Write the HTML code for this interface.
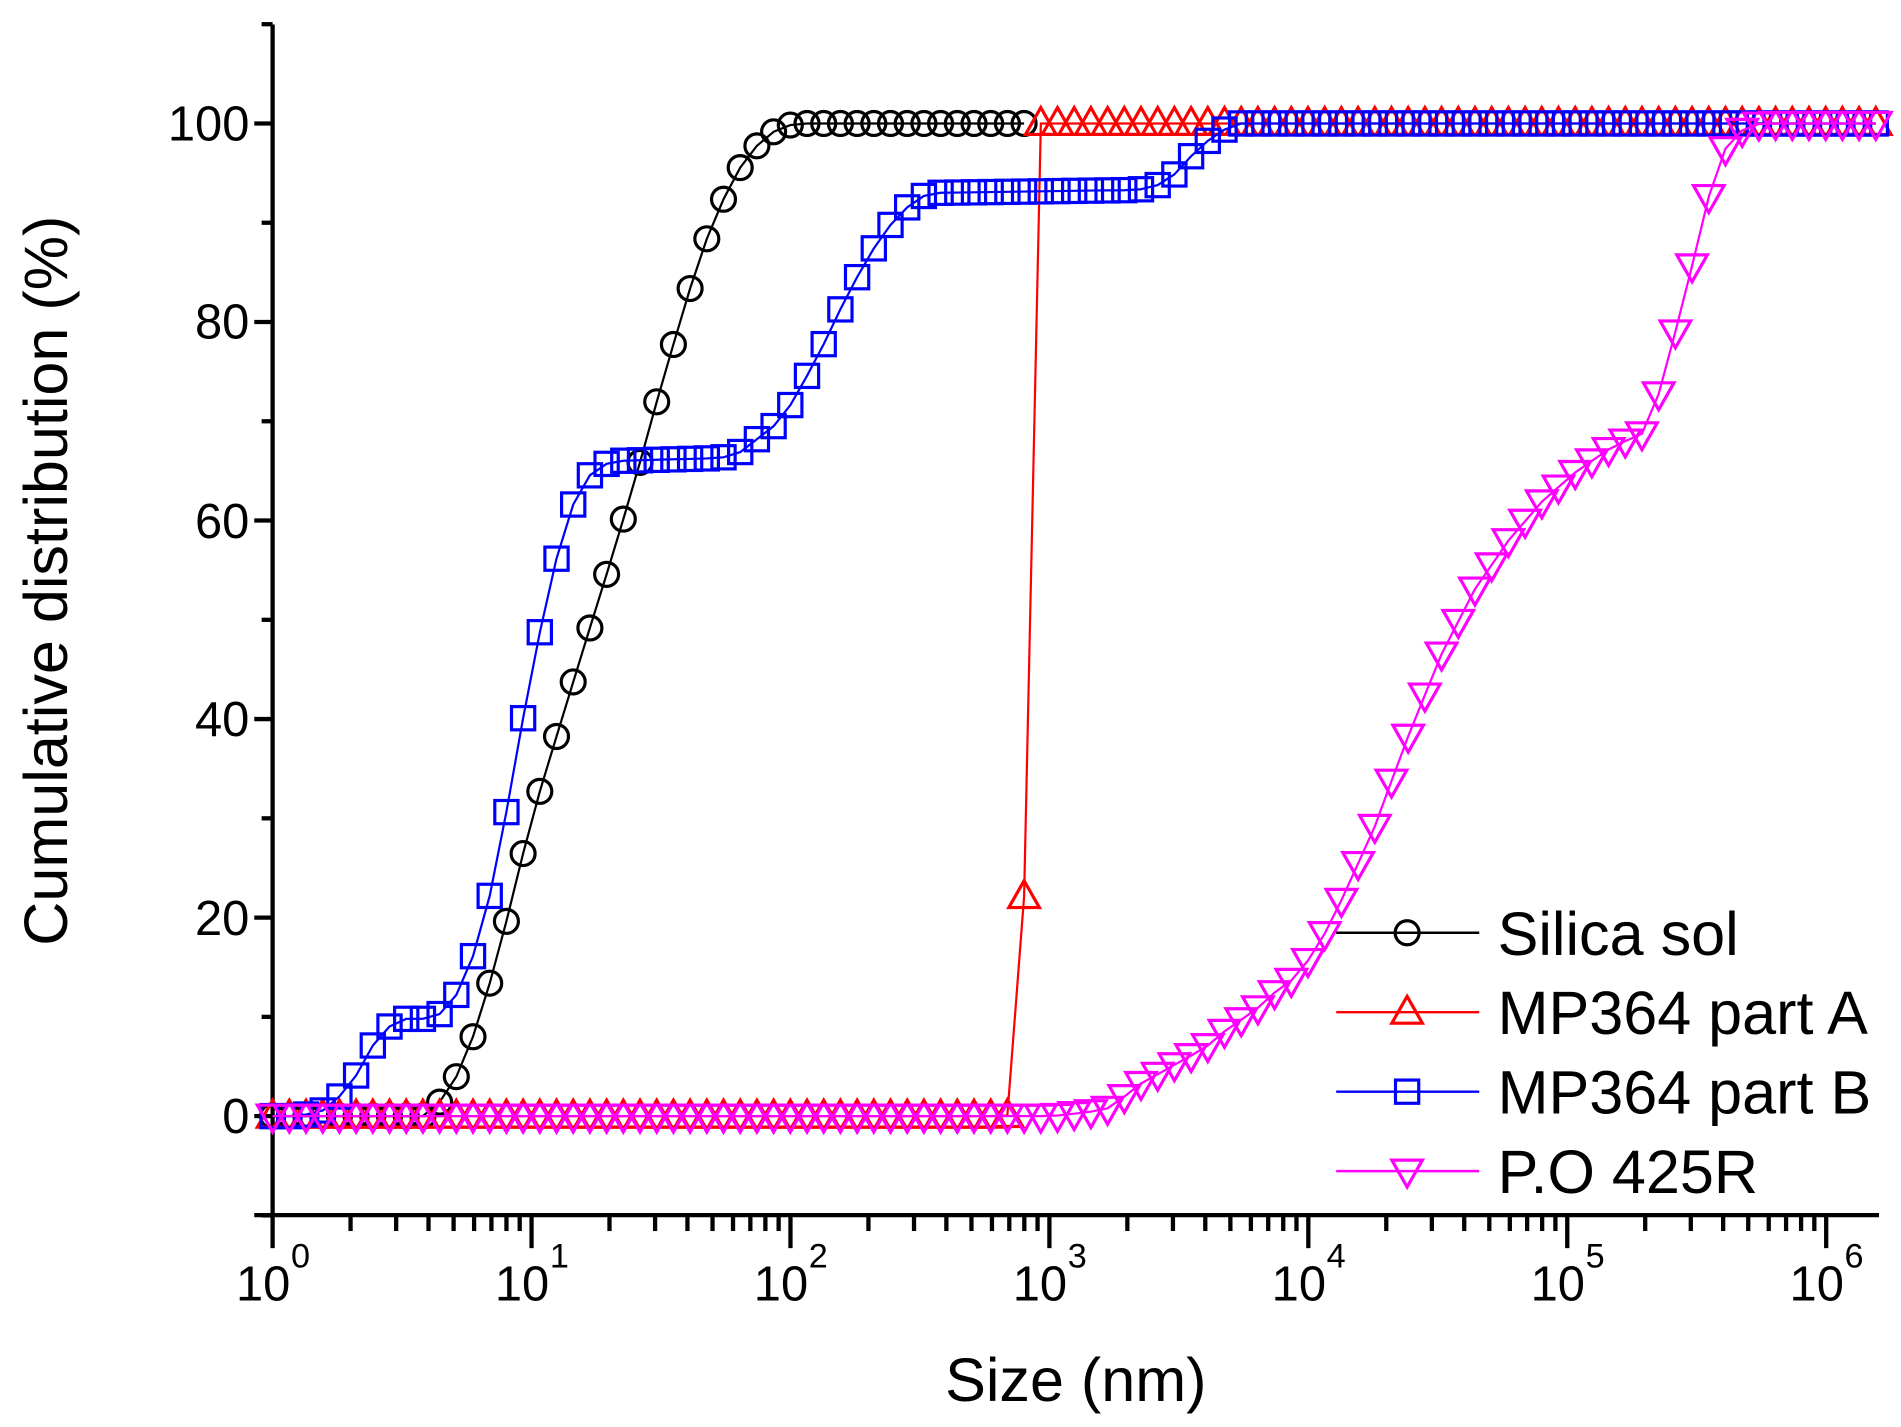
<!DOCTYPE html>
<html><head><meta charset="utf-8"><style>
html,body{margin:0;padding:0;background:#fff;}
svg{display:block;}
text{font-family:"Liberation Sans",Arial,sans-serif;}
</style></head><body>
<svg id="s" width="1901" height="1427" viewBox="0 0 1555 1167.3" preserveAspectRatio="none" xmlns="http://www.w3.org/2000/svg">
<rect width="1555" height="1168" fill="#fff"/>
<g id="axes" stroke="#000" stroke-width="3.5" fill="none">
<line x1="223" y1="20" x2="223" y2="994"/>
<line x1="208" y1="994" x2="1537" y2="994"/>
</g>
<g id="ticks" stroke="#000" stroke-width="3.5"></g>
<g font-size="40" text-anchor="end" fill="#000">
<text x="204" y="115">100</text>
<text x="204" y="277">80</text>
<text x="204" y="440">60</text>
<text x="204" y="602">40</text>
<text x="204" y="765">20</text>
<text x="204" y="927">0</text>
</g>
<g id="xl" font-size="40" fill="#000"></g>
<text x="880" y="1146" font-size="50" text-anchor="middle">Size (nm)</text>
<text transform="translate(55,475) rotate(-90)" font-size="50" text-anchor="middle">Cumulative distribution (%)</text>
<g id="data"></g>
<g id="legend" font-size="50"></g>
</svg>
<script>
var NS="http://www.w3.org/2000/svg";
function el(p,t,a){var e=document.createElementNS(NS,t);for(var k in a)e.setAttribute(k,a[k]);p.appendChild(e);return e;}
var tk=document.getElementById('ticks');
for(var v=-10;v<=110;v+=10){var y=913-8.12*v;var maj=(v%20==0);el(tk,'line',{x1:maj?208:214,y1:y,x2:223,y2:y});}
var D=211.8;
for(var d=0;d<=6;d++){for(var m=1;m<10;m++){var x=223+(d+Math.log10(m))*D;if(x>1537)break;el(tk,'line',{x1:x,y1:994,x2:x,y2:m==1?1021:1007});}}
var xl=document.getElementById('xl');
for(var d=0;d<=6;d++){var x=223+d*D;var t=el(xl,'text',{x:x-30,y:1064});t.textContent='10';var s=el(xl,'text',{x:x+15,y:1037,'font-size':'28'});s.textContent=String(d);}
function interp(k,x){for(var i=0;i<k.length-1;i++){if(x<=k[i+1][0]){var a=k[i],b=k[i+1];return a[1]+(b[1]-a[1])*(x-a[0])/(b[0]-a[0]);}}return k[k.length-1][1];}
function Y(v){return 913-8.12*v;}
var series=[
{c:'#000',m:'o',end:840,k:[[223,0],[350,0],[367,2.5],[381,5.8],[395,11],[409,17],[422,23.5],[435,30],[449,35.8],[463,41.3],[476,46.7],[490,52],[503,57.4],[517,63],[530,68.7],[543,74.6],[557,80.2],[570,85.7],[584,90.3],[598,94],[611,96.7],[625,98.5],[638,99.6],[652,100],[900,100]]},
{c:'#f00',m:'t',end:1537,k:[[223,0],[824,0],[838,22.6],[851,100],[1540,100]]},
{c:'#00f',m:'s',end:1537,k:[[223,0],[245,0],[265,0.6],[287,3],[300,6.3],[314,8.6],[327,9.8],[354,9.8],[368,11],[381,14],[395,19],[409,27],[422,36],[435,45],[449,53],[462,59.6],[476,63.7],[489,65.4],[503,66],[590,66.3],[608,67],[622,68.5],[638,70],[652,72.7],[665,75.7],[679,79],[692,82.5],[706,85.6],[719,88.3],[733,90.5],[746,92],[760,93],[930,93.3],[944,93.6],[958,94.5],[971,96.3],[985,98],[1003,99.5],[1015,100],[1540,100]]},
{c:'#f0f',m:'v',end:1537,k:[[223,0],[860,0],[875,0.2],[890,0.4],[905,0.7],[918,1.8],[932,3.2],[944,4],[958,5],[973,6],[987,7],[1000,8.4],[1014,9.6],[1028,10.8],[1041,12.3],[1055,13.5],[1068,15.3],[1082,18],[1096,21.4],[1124,29],[1151,38],[1179,46.5],[1206,53],[1234,58],[1262,62],[1290,65],[1320,67.5],[1348,69],[1362,75],[1381,84],[1396,92],[1411,97.4],[1425,99.3],[1440,100],[1540,100]]}
];
var g=document.getElementById('data');
function marker(p,m,x,y,c){
 var a={fill:'none',stroke:c,'stroke-width':2.6};
 if(m=='o'){a.cx=x;a.cy=y;a.r=9.8;el(p,'circle',a);}
 else if(m=='s'){a.x=x-9.5;a.y=y-9.5;a.width=19;a.height=19;el(p,'rect',a);}
 else if(m=='t'){a.points=(x-12.5)+','+(y+9)+' '+(x+12.5)+','+(y+9)+' '+x+','+(y-13);el(p,'polygon',a);}
 else {a.points=(x-12.5)+','+(y-9)+' '+(x+12.5)+','+(y-9)+' '+x+','+(y+13);el(p,'polygon',a);}
}
series.forEach(function(s){
 var pts=[];for(var i=0;;i++){var x=223+i*13.66;if(x>s.end+0.5)break;pts.push([x,Y(interp(s.k,x))]);}
 var sg=el(g,'g',{});
 el(sg,'polyline',{points:pts.map(function(p){return p[0].toFixed(1)+','+p[1].toFixed(1)}).join(' '),fill:'none',stroke:s.c,'stroke-width':1.8});
 pts.forEach(function(p){marker(sg,s.m,p[0],p[1],s.c);});
});
var lg=document.getElementById('legend');
var names=['Silica sol','MP364 part A','MP364 part B','P.O 425R'];
series.forEach(function(s,i){var y=763+i*65;
 el(lg,'line',{x1:1093,y1:y,x2:1210,y2:y,stroke:s.c,'stroke-width':2});
 marker(lg,s.m,1151,y,s.c);
 var t=el(lg,'text',{x:1225,y:y+18});t.textContent=names[i];
});
</script>
</body></html>
